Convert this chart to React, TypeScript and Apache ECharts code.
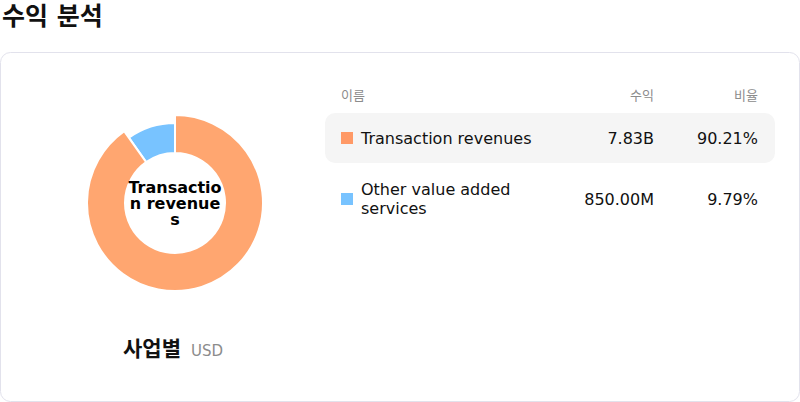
import React, { useEffect, useRef } from 'react';
import * as echarts from 'echarts';

const categories = ['Transaction revenues', 'Other value added services'];
const revenues = [7830000000, 850000000];
const colors = ['#FF9966', '#78C3FF'];
const headers = ['이름', '수익', '비율'];

const FONT = '"DejaVu Sans", "Noto Sans CJK KR", sans-serif';

const formatMoney = (v: number) =>
  v >= 1e9 ? (v / 1e9).toFixed(2) + 'B' : (v / 1e6).toFixed(2) + 'M';

const App: React.FC = () => {
  const chartRef = useRef<HTMLDivElement>(null);

  useEffect(() => {
    document.body.style.margin = '0';
    const chart = echarts.init(chartRef.current!, undefined, { renderer: 'svg' });

    const total = revenues.reduce((a, b) => a + b, 0);
    const rowY = [138, 199];

    const tableTexts: any[] = [];
    // header
    tableTexts.push(
      { type: 'text', x: 341, y: 95, style: { text: headers[0], fill: '#8c8c8c', font: `13px ${FONT}`, verticalAlign: 'middle' } },
      { type: 'text', x: 654, y: 95, style: { text: headers[1], fill: '#8c8c8c', font: `13px ${FONT}`, align: 'right', verticalAlign: 'middle' } },
      { type: 'text', x: 758, y: 95, style: { text: headers[2], fill: '#8c8c8c', font: `13px ${FONT}`, align: 'right', verticalAlign: 'middle' } }
    );
    // highlighted row background
    tableTexts.push({
      type: 'rect',
      shape: { x: 325, y: 113, width: 450, height: 50, r: 10 },
      style: { fill: '#f5f5f5' },
    });
    categories.forEach((name, i) => {
      const y = rowY[i];
      tableTexts.push(
        { type: 'rect', shape: { x: 341, y: y - 6, width: 12, height: 12 }, style: { fill: colors[i] } },
        {
          type: 'text', x: 361, y,
          style: { text: name, fill: '#111', font: `16px ${FONT}`, verticalAlign: 'middle', width: 200, overflow: 'break', lineHeight: 19 },
        },
        {
          type: 'text', x: 654, y,
          style: { text: formatMoney(revenues[i]), fill: '#111', font: `16px ${FONT}`, align: 'right', verticalAlign: 'middle' },
        },
        {
          type: 'text', x: 758, y,
          style: { text: ((revenues[i] / total) * 100).toFixed(2) + '%', fill: '#111', font: `16px ${FONT}`, align: 'right', verticalAlign: 'middle' },
        }
      );
    });

    const centerLabel = {
      color: '#000',
      fontFamily: FONT,
      fontSize: 16,
      fontWeight: 'bold',
      lineHeight: 16,
      width: 100,
      overflow: 'breakAll',
    };

    const option = {
      animation: false,
      graphic: [
        { type: 'text', x: 2, y: 16, style: { text: '수익 분석', fill: '#111', font: `bold 25px ${FONT}`, verticalAlign: 'middle' } },
        {
          type: 'rect',
          z: -10,
          shape: { x: 0.5, y: 52.5, width: 799, height: 349, r: 10 },
          style: { fill: '#fff', stroke: '#e2e2ec', lineWidth: 1 },
        },
        { type: 'text', x: 123, y: 349, style: { text: '사업별', fill: '#111', font: `bold 21px ${FONT}`, verticalAlign: 'middle' } },
        { type: 'text', x: 191, y: 350.5, style: { text: 'USD', fill: '#8c8c8c', font: `15px ${FONT}`, verticalAlign: 'middle' } },
        ...tableTexts,
      ],
      series: [
        {
          type: 'pie',
          center: [175, 203],
          radius: [50, 80],
          startAngle: 90,
          avoidLabelOverlap: false,
          stateAnimation: { duration: 0 },
          itemStyle: { borderColor: '#fff', borderWidth: 2 },
          label: { show: false, position: 'center', ...centerLabel },
          labelLine: { show: false },
          emphasis: {
            scale: true,
            scaleSize: 8,
            label: { show: true, ...centerLabel },
          },
          data: categories.map((name, i) => ({
            name,
            value: revenues[i],
            itemStyle: { color: colors[i] },
            emphasis: { itemStyle: { color: i === 0 ? '#FFA670' : colors[i] } },
          })),
        },
      ],
    };

    chart.setOption(option);
    chart.dispatchAction({ type: 'highlight', seriesIndex: 0, dataIndex: 0 });

    return () => {
      chart.dispose();
    };
  }, []);

  return <div ref={chartRef} style={{ width: 800, height: 402 }} />;
};

export default App;
